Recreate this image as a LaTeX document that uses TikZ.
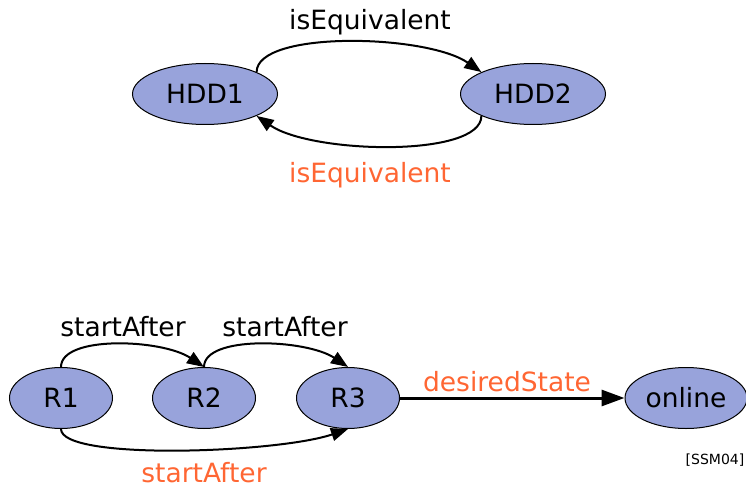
\documentclass[tikz,border=0pt]{standalone}
\usepackage{fontspec}
\setmainfont{DejaVu Sans}
\usetikzlibrary{shapes.geometric,arrows.meta}

\begin{document}
\begin{tikzpicture}[x=1pt,y=1pt,font=\fontsize{26.5}{30}\selectfont,
   state/.style={ellipse,draw=black,line width=1pt,fill=statefill,minimum width=#1,minimum height=61pt,inner sep=0pt},
   state/.default=145pt,
   rel/.style={line width=2pt,-{Triangle[length=17pt,width=13pt]}},
   hint/.style={text=relorange}]
   \definecolor{statefill}{RGB}{152,163,219}
   \definecolor{relorange}{RGB}{255,102,51}
   \useasboundingbox (0,0) rectangle (746,-489);
   \node[state] (hdd1) at (205,-94) {HDD1};
   \node[state] (hdd2) at (533,-94) {HDD2};
   \node[state=103pt] (r1) at (61,-398) {R1};
   \node[state=103pt] (r2) at (204,-398) {R2};
   \node[state=103pt] (r3) at (348,-398) {R3};
   \node[state=122pt] (online) at (686,-398) {online};
   \draw[rel] (hdd1.north east) .. controls +(0,42) and +(-55,38) .. (hdd2.north west);
   \draw[rel] (hdd2.south west) .. controls +(0,-42) and +(55,-38) .. (hdd1.south east);
   \draw[rel] (r1.north) .. controls +(0,32) and +(-42,28) .. (r2.north);
   \draw[rel] (r2.north) .. controls +(0,32) and +(-42,28) .. (r3.north);
   \draw[rel] (r1.south) .. controls +(0,-32) and +(-70,-24) .. (r3.south);
   \draw[line width=3pt,-{Triangle[length=23pt,width=16pt]}] (r3) -- (online);
   \node (lbl1) at (370,-22) {isEquivalent};
   \node[hint] (lbl2) at (370,-175) {isEquivalent};
   \node (lbl3) at (123,-327) {startAfter};
   \node (lbl4) at (285,-327) {startAfter};
   \node[hint,inner sep=0pt] (lbl5) at (204,-473) {startAfter};
   \node[hint] (lbl6) at (507,-382) {desiredState};
   \node[font=\fontsize{14}{16}\selectfont] (cite) at (715,-460) {[SSM04]};
\end{tikzpicture}
\end{document}
